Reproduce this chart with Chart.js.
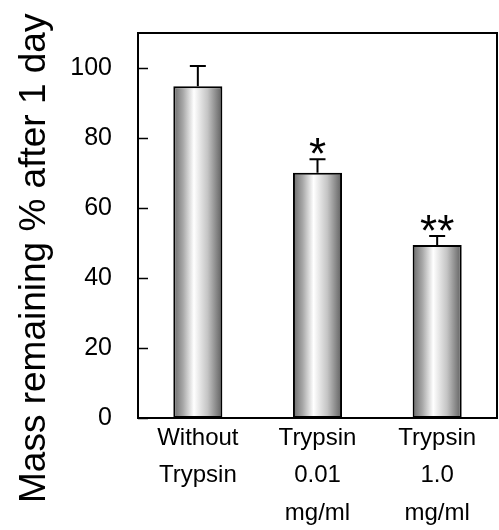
<!DOCTYPE html>
<html>
<head>
<meta charset="utf-8">
<script src="https://cdn.jsdelivr.net/npm/chart.js@4.4.1/dist/chart.umd.min.js"></script>
<style>
  html, body { margin: 0; padding: 0; background: #fff; }
  #wrap { width: 499px; height: 530px; }
</style>
</head>
<body>
<div id="wrap"><canvas id="myChart" width="499" height="530"></canvas></div>
<script>
  const categories = [['Without', 'Trypsin'], ['Trypsin', '0.01', 'mg/ml'], ['Trypsin', '1.0', 'mg/ml']];
  const massRemaining = [94.8, 70.1, 49.4];
  const errorUp = [5.8, 3.8, 2.6];
  const significance = ['', '*', '**'];
  const yTicks = [0, 20, 40, 60, 80, 100];
  const yTitle = 'Mass remaining % after 1 day';

  const FONT = 'Arial, "Liberation Sans", sans-serif';
  const BAR_PCT = 0.41;

  // grey cylinder-like shading across each bar
  function barGradient(context) {
    const chart = context.chart;
    const x = chart.scales.x;
    if (!x || context.dataIndex === undefined) return '#aaa';
    const cx = x.getPixelForValue(context.dataIndex);
    const half = (x.width / categories.length) * BAR_PCT / 2;
    if (!isFinite(cx) || !isFinite(half) || half <= 0) return '#aaa';
    const g = chart.ctx.createLinearGradient(cx - half, 0, cx + half, 0);
    g.addColorStop(0, '#6a6a6a');
    g.addColorStop(0.2, '#a8a8a8');
    g.addColorStop(0.42, '#ffffff');
    g.addColorStop(0.7, '#c4c4c4');
    g.addColorStop(1, '#5e5e5e');
    return g;
  }

  const extras = {
    id: 'extras',
    afterDatasetsDraw(chart) {
      const ctx = chart.ctx;
      const x = chart.scales.x, y = chart.scales.y;
      const area = chart.chartArea;
      ctx.save();
      ctx.strokeStyle = '#000';
      ctx.fillStyle = '#000';
      ctx.lineWidth = 2;
      // error bars (upper only)
      massRemaining.forEach((v, i) => {
        const cx = x.getPixelForValue(i);
        const y0 = y.getPixelForValue(v);
        const y1 = y.getPixelForValue(v + errorUp[i]);
        ctx.beginPath();
        ctx.moveTo(cx, y0);
        ctx.lineTo(cx, y1);
        ctx.moveTo(cx - 8, y1);
        ctx.lineTo(cx + 8, y1);
        ctx.stroke();
        if (significance[i]) {
          ctx.font = '44px ' + FONT;
          ctx.textAlign = 'center';
          ctx.textBaseline = 'alphabetic';
          ctx.fillText(significance[i], cx, y1 + 10);
        }
      });
      // inward tick marks on the left axis
      ctx.lineWidth = 1.5;
      y.ticks.forEach(t => {
        const py = Math.round(y.getPixelForValue(t.value)) + 0.5;
        ctx.beginPath();
        ctx.moveTo(area.left, py);
        ctx.lineTo(area.left + 10, py);
        ctx.stroke();
      });
      // frame around the plot
      ctx.lineWidth = 2;
      ctx.strokeRect(area.left, area.top, area.right - area.left, area.bottom - area.top);
      // y axis title, rotated
      ctx.font = '37px ' + FONT;
      ctx.textAlign = 'left';
      ctx.textBaseline = 'alphabetic';
      ctx.translate(45, 503);
      ctx.rotate(-Math.PI / 2);
      ctx.fillText(yTitle, 0, 0);
      ctx.restore();
    }
  };

  const ctx = document.getElementById('myChart').getContext('2d');
  const myChart = new Chart(ctx, {
    type: 'bar',
    data: {
      labels: categories,
      datasets: [{
        label: 'Mass remaining',
        data: massRemaining,
        backgroundColor: barGradient,
        borderColor: '#000',
        borderWidth: 2,
        borderSkipped: false,
        barPercentage: BAR_PCT,
        categoryPercentage: 1
      }]
    },
    options: {
      responsive: false,
      animation: false,
      layout: { padding: { top: 33, right: 2, left: 0, bottom: 0 } },
      plugins: {
        legend: { display: false },
        tooltip: { enabled: false }
      },
      scales: {
        x: {
          grid: { display: false, drawTicks: false },
          border: { display: false },
          ticks: {
            color: '#000',
            font: { family: FONT, size: 24, lineHeight: 1.55 },
            padding: 2,
            maxRotation: 0,
            autoSkip: false
          },
          afterFit(scale) { scale.height = 112; }
        },
        y: {
          min: 0,
          max: 110,
          grid: { display: false, drawTicks: false },
          border: { display: false },
          afterBuildTicks(scale) {
            scale.ticks = yTicks.map(v => ({ value: v }));
          },
          ticks: {
            color: '#000',
            font: { family: FONT, size: 25 },
            padding: 26
          },
          afterFit(scale) {
            scale.width = 138;
            scale.paddingTop = 0;
            scale.paddingBottom = 0;
          }
        }
      }
    },
    plugins: [extras]
  });
</script>
</body>
</html>
